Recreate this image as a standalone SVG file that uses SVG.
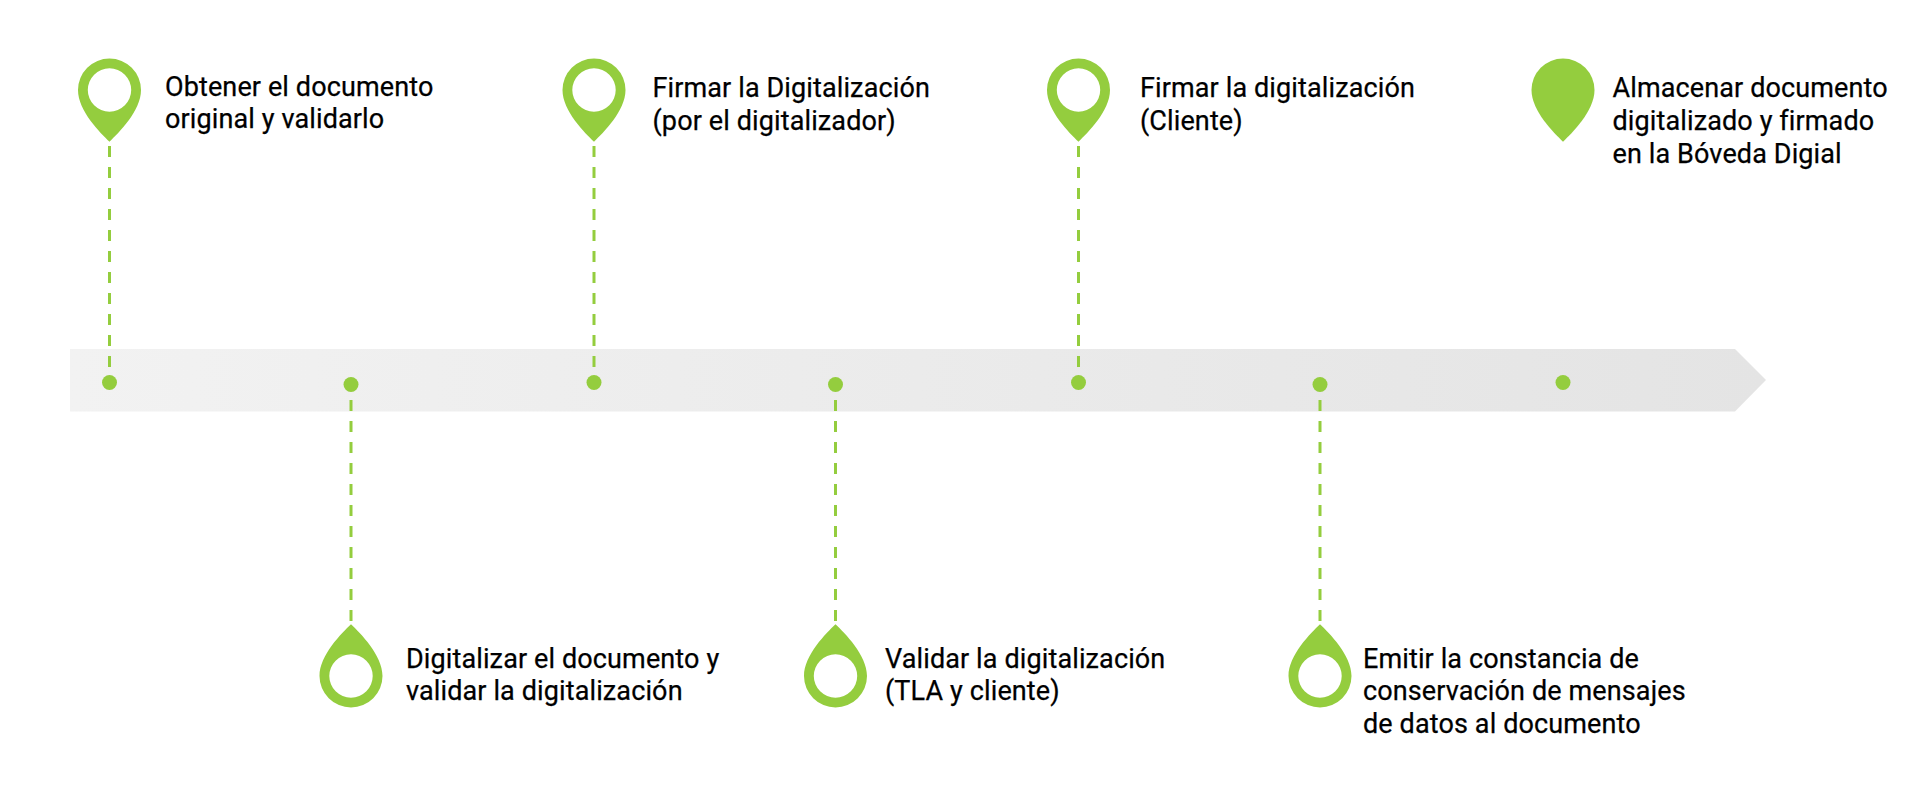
<svg xmlns="http://www.w3.org/2000/svg" width="1920" height="795" viewBox="0 0 1920 795">
<style>
.t{font-family:Roboto,"Liberation Sans",sans-serif;font-size:27px;font-weight:400;letter-spacing:.12px;stroke:#000;stroke-width:.25px;fill:#000}
.p{fill:#94cd3e}
.d{stroke:#94cd3e;stroke-width:3;stroke-dasharray:11 10;fill:none}
</style>
<defs>
<linearGradient id="g" x1="0" x2="1" y1="0" y2="0"><stop offset="0" stop-color="#f2f2f2"/><stop offset="1" stop-color="#e4e4e4"/></linearGradient>
<path id="up" fill-rule="evenodd" d="M0 51.7C-9 43 -31.5 21 -31.5 0A31.5 31.5 0 0 1 31.5 0C31.5 21 9 43 0 51.7ZM0 -21.7A21.7 21.7 0 0 0 0 21.7A21.7 21.7 0 0 0 0 -21.7Z"/>
<path id="down" fill-rule="evenodd" d="M0 -51.7C-9 -43 -31.5 -21 -31.5 0A31.5 31.5 0 0 0 31.5 0C31.5 -21 9 -43 0 -51.7ZM0 21.7A21.7 21.7 0 0 0 0 -21.7A21.7 21.7 0 0 0 0 21.7Z"/>
</defs>
<rect width="1920" height="795" fill="#fff"/>
<path id="timeline" d="M70 349H1735L1766 380L1735 411.500H70Z" fill="url(#g)"/>
<g id="connectors">
<path class="d" d="M109.500 146V367"/>
<path class="d" d="M351 400V621"/>
<path class="d" d="M594 146V367"/>
<path class="d" d="M835.500 400V621"/>
<path class="d" d="M1078.500 146V367"/>
<path class="d" d="M1320 400V621"/>
</g>
<g id="n1"><circle class="p" cx="109.500" cy="382.500" r="7.500"/><use href="#up" class="p" x="109.500" y="90"/><text class="t" x="165" y="96">Obtener el documento</text><text class="t" x="165" y="128">original y validarlo</text></g>
<g id="n2"><circle class="p" cx="351" cy="384.500" r="7.500"/><use href="#down" class="p" x="351" y="676"/><text class="t" x="406" y="668">Digitalizar el documento y</text><text class="t" x="406" y="700">validar la digitalización</text></g>
<g id="n3"><circle class="p" cx="594" cy="382.500" r="7.500"/><use href="#up" class="p" x="594" y="90"/><text class="t" x="652.500" y="97">Firmar la Digitalización</text><text class="t" x="652.500" y="130">(por el digitalizador)</text></g>
<g id="n4"><circle class="p" cx="835.500" cy="384.500" r="7.500"/><use href="#down" class="p" x="835.500" y="676"/><text class="t" x="885" y="668">Validar la digitalización</text><text class="t" x="885" y="700">(TLA y cliente)</text></g>
<g id="n5"><circle class="p" cx="1078.500" cy="382.500" r="7.500"/><use href="#up" class="p" x="1078.500" y="90"/><text class="t" x="1140" y="97">Firmar la digitalización</text><text class="t" x="1140" y="130">(Cliente)</text></g>
<g id="n6"><circle class="p" cx="1320" cy="384.500" r="7.500"/><use href="#down" class="p" x="1320" y="676"/><text class="t" x="1363" y="668">Emitir la constancia de</text><text class="t" x="1363" y="700">conservación de mensajes</text><text class="t" x="1363" y="733">de datos al documento</text></g>
<g id="n7"><circle class="p" cx="1563" cy="382.500" r="7.500"/><path class="p" d="M1563 141.700C1554 133 1531.500 111 1531.500 90A31.500 31.500 0 0 1 1594.500 90C1594.500 111 1572 133 1563 141.700Z"/><text class="t" x="1612.500" y="97">Almacenar documento</text><text class="t" x="1612.500" y="130">digitalizado y firmado</text><text class="t" x="1612.500" y="163">en la Bóveda Digial</text></g>
</svg>
